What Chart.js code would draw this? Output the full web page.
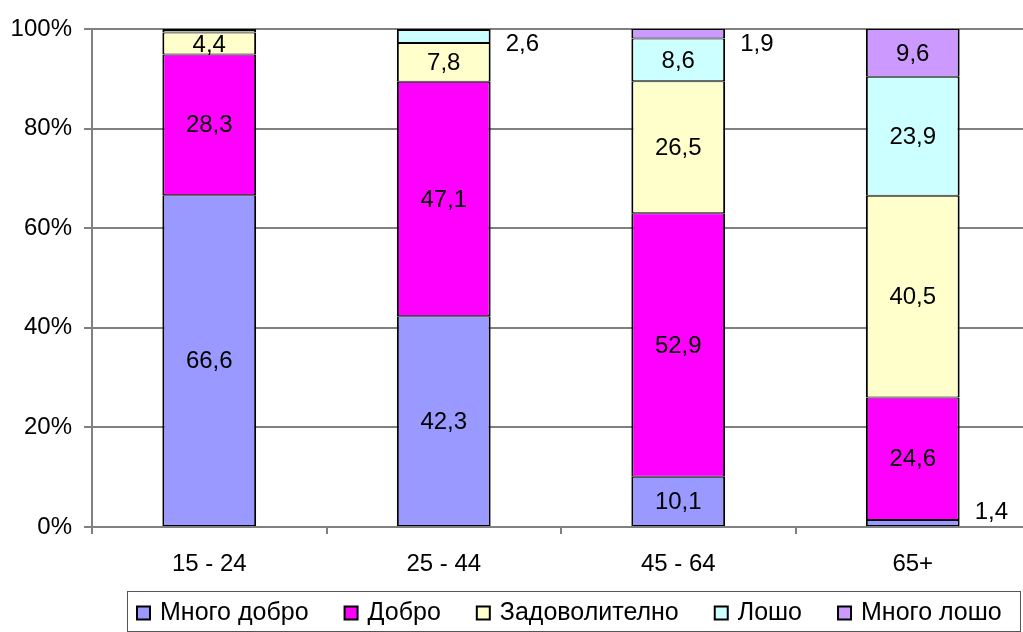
<!DOCTYPE html>
<html>
<head>
<meta charset="utf-8">
<script src="https://cdn.jsdelivr.net/npm/chart.js@4/dist/chart.umd.min.js"></script>
<style>
  html, body { margin: 0; padding: 0; background: #fff; overflow: hidden; }
  #wrap { position: relative; width: 1032px; height: 632px; }
</style>
</head>
<body>
<div id="wrap"><canvas id="c"></canvas></div>
<script>
// Age groups on the x axis
const categories = ['15 - 24', '25 - 44', '45 - 64', '65+'];

// Self-rated health, share of each age group (%)
const seriesNames = ['Много добро', 'Добро', 'Задоволително', 'Лошо', 'Много лошо'];
const veryGood     = [66.6, 42.3, 10.1, 1.4];
const good         = [28.3, 47.1, 52.9, 24.6];
const satisfactory = [4.4, 7.8, 26.5, 40.5];
const bad          = [0.5, 2.6, 8.6, 23.9];
const veryBad      = [0.2, 0.2, 1.9, 9.6];

const seriesColors = ['#9999FF', '#FF00FF', '#FFFFCC', '#CCFFFF', '#CC99FF'];

const FONT = "'Liberation Sans', Arial, sans-serif";

const datasets = [veryGood, good, satisfactory, bad, veryBad].map((vals, i) => ({
  label: seriesNames[i],
  data: vals,
  backgroundColor: seriesColors[i],
  borderColor: '#000',
  borderWidth: { top: 1, bottom: 1, left: 2, right: 2 },
  borderSkipped: false,
  categoryPercentage: 1,
  barPercentage: 0.4
}));

const fmt = v => v.toFixed(1).replace('.', ',');

// Value labels: centred in the segment, or beside the bar for thin segments
const valueLabels = {
  id: 'valueLabels',
  afterDatasetsDraw(chart) {
    const ctx = chart.ctx;
    const area = chart.chartArea;
    ctx.save();
    ctx.font = '24px ' + FONT;
    ctx.fillStyle = '#000';
    ctx.textBaseline = 'middle';
    chart.data.datasets.forEach((ds, di) => {
      const meta = chart.getDatasetMeta(di);
      meta.data.forEach((bar, i) => {
        const v = ds.data[i];
        if (v < 1) return;
        const top = Math.min(bar.y, bar.base);
        const bottom = Math.max(bar.y, bar.base);
        let cy = (top + bottom) / 2;
        cy = Math.max(area.top + 15, Math.min(area.bottom - 15, cy));
        if (v < 3) {
          ctx.textAlign = 'left';
          ctx.fillText(fmt(v), bar.x + bar.width / 2 + 15, cy);
        } else {
          ctx.textAlign = 'center';
          ctx.fillText(fmt(v), bar.x, cy + 1);
        }
      });
    });
    ctx.restore();
  }
};

// Boxed legend along the bottom
const boxedLegend = {
  id: 'boxedLegend',
  afterDraw(chart) {
    const ctx = chart.ctx;
    ctx.save();
    ctx.strokeStyle = '#555';
    ctx.lineWidth = 1;
    ctx.strokeRect(127.5, 591.5, 893, 40);
    ctx.font = '25px ' + FONT;
    ctx.textBaseline = 'middle';
    ctx.textAlign = 'left';
    let x = 137;
    const cy = 613;
    chart.data.datasets.forEach(ds => {
      ctx.fillStyle = ds.backgroundColor;
      ctx.fillRect(x, cy - 6.5, 13, 13);
      ctx.lineWidth = 2;
      ctx.strokeStyle = '#000';
      ctx.strokeRect(x, cy - 6.5, 13, 13);
      ctx.fillStyle = '#000';
      const tx = x + 13 + 10;
      ctx.fillText(ds.label, tx, cy);
      x = tx + ctx.measureText(ds.label).width + 36;
    });
    ctx.restore();
  }
};

new Chart(document.getElementById('c'), {
  type: 'bar',
  data: { labels: categories, datasets },
  options: {
    responsive: true,
    maintainAspectRatio: false,
    animation: false,
    layout: { padding: { top: 29, left: 0, right: 2, bottom: 45 } },
    plugins: { legend: { display: false }, tooltip: { enabled: false } },
    scales: {
      x: {
        stacked: true,
        grid: { display: true, offset: true, drawOnChartArea: false, drawTicks: true, tickLength: 7, color: '#808080', lineWidth: 2 },
        border: { display: true, color: '#808080', width: 2 },
        ticks: { color: '#000', font: { family: FONT, size: 24 }, padding: 16, maxRotation: 0 },
        afterFit(scale) { scale.height = 60; }
      },
      y: {
        stacked: true,
        min: 0,
        max: 100,
        grid: { color: '#808080', lineWidth: 2, tickLength: 8, drawTicks: true },
        border: { display: true, color: '#808080', width: 2 },
        ticks: { stepSize: 20, color: '#000', font: { family: FONT, size: 24 }, padding: 12, callback: v => v + '%' },
        afterFit(scale) { scale.width = 92; }
      }
    }
  },
  plugins: [valueLabels, boxedLegend]
});
</script>
</body>
</html>
